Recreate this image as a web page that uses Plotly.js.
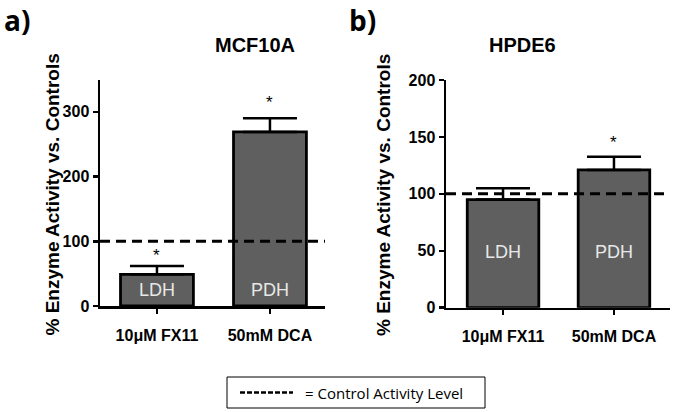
<!DOCTYPE html>
<html><head><meta charset="utf-8">
<script src="https://cdn.plot.ly/plotly-3.0.1.min.js"></script>
<style>html,body{margin:0;padding:0;background:#fff}#c{width:675px;height:412px}</style>
</head><body><div id="c"></div>
<script>
const categories = ["10\u03bcM FX11", "50mM DCA"];
const enzymes = ["LDH", "PDH"];
const mcfValues = [49, 269];
const mcfErrors = [13, 21];
const mcfSig = [true, true];
const hpdeValues = [95, 121];
const hpdeErrors = [10, 11.5];
const hpdeSig = [false, true];
const controlLevel = 100;
const yTicksA = [0, 100, 200, 300];
const yTicksB = [0, 50, 100, 150, 200];

const F = "Liberation Sans, Arial, sans-serif";
const barColor = "#5f5f5f";
const boldFont = (size) => ({family: F, size: size, color: "#000", weight: "bold"});

function barTrace(vals, errs, xa, ya, cap) {
  return {
    type: "bar", x: categories, y: vals, xaxis: xa, yaxis: ya,
    width: 0.645,
    marker: {color: barColor, line: {color: "#000", width: 2.8}},
    error_y: {type: "data", array: errs, arrayminus: errs.map(() => 0), symmetric: false,
              color: "#000", thickness: 2.5, width: cap},
    hoverinfo: "none", showlegend: false
  };
}

const data = [
  barTrace(mcfValues, mcfErrors, "x", "y", 27),
  barTrace(hpdeValues, hpdeErrors, "x2", "y2", 27)
];

const annotations = [];
const ann = (o) => annotations.push(Object.assign({showarrow: false, yanchor: "middle"}, o));
// bar labels
enzymes.forEach((e, i) => {
  ann({xref: "x", yref: "y", x: categories[i], y: 25, text: e, font: {family: F, size: 18, color: "#e8e8e8"}});
  ann({xref: "x2", yref: "y2", x: categories[i], y: 49, text: e, font: {family: F, size: 18, color: "#e8e8e8"}});
});
// significance stars
mcfValues.forEach((v, i) => {
  if (mcfSig[i]) ann({xref: "x", yref: "y", x: categories[i], y: v + mcfErrors[i], yshift: i === 0 ? 10 : 16,
    text: "*", font: {family: F, size: 17, color: "#000"}});
});
hpdeValues.forEach((v, i) => {
  if (hpdeSig[i]) ann({xref: "x2", yref: "y2", x: categories[i], y: v + hpdeErrors[i], yshift: 14,
    text: "*", font: {family: F, size: 17, color: "#000"}});
});
// panel titles & letters
ann({xref: "paper", yref: "paper", x: 213/675, y: (412-45)/412, text: "MCF10A", font: boldFont(20)});
ann({xref: "paper", yref: "paper", x: 558/675, y: (412-45)/412, text: "HPDE6", font: boldFont(20)});
ann({xref: "paper", yref: "paper", x: 2/675, y: (412-20)/412, xanchor: "left", text: "a)",
  font: {family: "Open Sans, sans-serif", size: 28, color: "#000", weight: "bold"}});
ann({xref: "paper", yref: "paper", x: 347/675, y: (412-20)/412, xanchor: "left", text: "b)",
  font: {family: "Open Sans, sans-serif", size: 28, color: "#000", weight: "bold"}});
// y axis titles
ann({xref: "paper", yref: "paper", x: 39/675, y: (412-195)/412, textangle: -90,
  text: "% Enzyme Activity vs. Controls", font: boldFont(19)});
ann({xref: "paper", yref: "paper", x: 383/675, y: (412-195)/412, textangle: -90,
  text: "% Enzyme Activity vs. Controls", font: boldFont(19)});
// legend text
ann({xref: "paper", yref: "paper", x: 303/675, y: (412-392.5)/412, xanchor: "left",
  text: "= Control Activity Level", font: {family: "Open Sans, sans-serif", size: 15, color: "#000"}});

const dashStyle = "10px,6px";
const shapes = [
  {type: "line", xref: "x domain", yref: "y", x0: 0, x1: 1, y0: controlLevel, y1: controlLevel,
   line: {color: "#000", width: 3, dash: dashStyle}},
  {type: "line", xref: "x2 domain", yref: "y2", x0: 0, x1: 1, y0: controlLevel, y1: controlLevel,
   line: {color: "#000", width: 3, dash: dashStyle}},
  {type: "rect", xref: "paper", yref: "paper", x0: 227/675, x1: 485/675, y0: (412-408)/412, y1: (412-377)/412,
   line: {color: "#000", width: 1}},
  {type: "line", xref: "paper", yref: "paper", x0: 240/675, x1: 293/675, y0: (412-392.5)/412, y1: (412-392.5)/412,
   line: {color: "#000", width: 2.5, dash: "5px,2px"}}
];

const axisCommon = {showgrid: false, zeroline: false, showline: true, linecolor: "#000", linewidth: 2.5,
  ticks: "outside", ticklen: 5, tickwidth: 2.5, tickcolor: "#000",
  tickfont: boldFont(16), fixedrange: true};

const layout = {
  width: 675, height: 412,
  margin: {l: 0, r: 0, t: 0, b: 0},
  paper_bgcolor: "#fff", plot_bgcolor: "#fff",
  showlegend: false,
  xaxis: Object.assign({}, axisCommon, {type: "category", domain: [100/675, 325/675], range: [-0.504, 1.487],
    anchor: "y", tickfont: boldFont(16), ticklabelstandoff: 8}),
  yaxis: Object.assign({}, axisCommon, {domain: [(412-306)/412, (412-79.5)/412], range: [0, 350], tickvals: yTicksA,
    anchor: "x"}),
  xaxis2: Object.assign({}, axisCommon, {type: "category", domain: [446/675, 670/675], range: [-0.514, 1.505],
    anchor: "y2", tickfont: boldFont(16), ticklabelstandoff: 8}),
  yaxis2: Object.assign({}, axisCommon, {domain: [(412-307.7)/412, (412-80)/412], range: [0, 200], tickvals: yTicksB,
    anchor: "x2"}),
  annotations: annotations,
  shapes: shapes
};

Plotly.newPlot("c", data, layout, {displayModeBar: false, staticPlot: true});
</script>
</body></html>
